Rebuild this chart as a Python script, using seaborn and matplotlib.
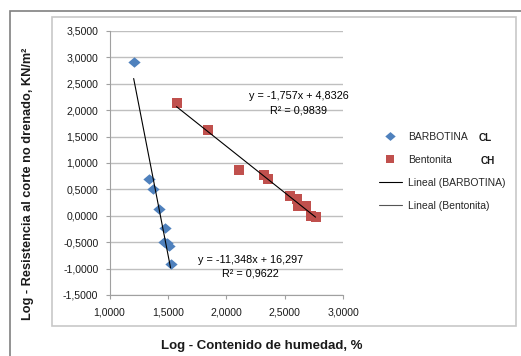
import numpy as np
import pandas as pd
import matplotlib
matplotlib.use("Agg")
import matplotlib.pyplot as plt
import seaborn as sns
from matplotlib.lines import Line2D
from matplotlib.patches import Rectangle
from matplotlib.ticker import FuncFormatter, MultipleLocator

# Log of moisture content vs log of undrained shear strength
barb_x = [1.207, 1.340, 1.374, 1.426, 1.474, 1.468, 1.489, 1.511, 1.523]
barb_y = [2.922, 0.695, 0.505, 0.127, -0.233, -0.487, -0.517, -0.580, -0.915]
bent_x = [1.574, 1.845, 2.109, 2.321, 2.357, 2.549, 2.605, 2.614, 2.679, 2.728, 2.765]
bent_y = [2.134, 1.629, 0.871, 0.777, 0.695, 0.379, 0.316, 0.189, 0.189, -0.013, -0.025]

series_names = ["BARBOTINA", "Bentonita"]
soil_class = ["CL", "CH"]
trend_labels = ["Lineal (BARBOTINA)", "Lineal (Bentonita)"]

# Linear trend coefficients (slope, intercept, R²)
barb_fit = [-11.348, 16.297, 0.9622]
bent_fit = [-1.757, 4.8326, 0.9839]

x_label = "Log - Contenido de humedad, %"
y_label = "Log - Resistencia al corte no drenado, KN/m²"

BLUE = "#4F81BD"
RED = "#C0504D"
# diamond, a bit wider than tall
DIAMOND = [(-1, 0), (0, 0.85), (1, 0), (0, -0.85), (-1, 0)]

barb_df = pd.DataFrame({"x": barb_x, "y": barb_y})
bent_df = pd.DataFrame({"x": bent_x, "y": bent_y})

sns.set_theme(style="white")
plt.rcParams["font.family"] = ["Liberation Sans", "DejaVu Sans"]

W, H = 521, 356
fig = plt.figure(figsize=(W / 100, H / 100), dpi=100)
ax = fig.add_axes([109.5 / W, 1 - 295 / H, (343 - 109.5) / W, (295 - 31) / H])

sns.scatterplot(data=barb_df, x="x", y="y", marker=DIAMOND, color=BLUE,
                s=78, linewidth=0, ax=ax, zorder=3)
sns.scatterplot(data=bent_df, x="x", y="y", marker="s", color=RED,
                s=56, linewidth=0, ax=ax, zorder=3)


def fmt(v):
    return f"{v:g}".replace(".", ",")


def trend(xs, fit, tx, ty):
    xx = np.array([min(xs), max(xs)])
    ax.plot(xx, fit[0] * xx + fit[1], color="black", lw=0.8, zorder=4)
    sign = "+" if fit[1] >= 0 else "-"
    ax.text(tx, ty, f"y = {fmt(fit[0])}x {sign} {fmt(abs(fit[1]))}",
            ha="center", va="center", fontsize=7.8, color="black")
    ax.text(tx, ty - 0.26, f"R² = {fmt(fit[2])}",
            ha="center", va="center", fontsize=7.8, color="black")


trend(barb_x, barb_fit, 2.205, -0.840)
trend(bent_x, bent_fit, 2.620, 2.26)

ax.set_xlim(1.0, 3.0)
ax.set_ylim(-1.5, 3.5)
ax.xaxis.set_major_locator(MultipleLocator(0.5))
ax.yaxis.set_major_locator(MultipleLocator(0.5))
ax.xaxis.set_major_formatter(FuncFormatter(lambda v, p: f"{v:.4f}".replace(".", ",")))
ax.yaxis.set_major_formatter(FuncFormatter(lambda v, p: f"{v:.4f}".replace(".", ",")))
ax.grid(axis="y", color="#bfbfbf", lw=1.0)
ax.grid(axis="x", visible=False)
ax.set_axisbelow(True)
for side in ["top", "right"]:
    ax.spines[side].set_visible(False)
for side in ["left", "bottom"]:
    ax.spines[side].set_color("#a0a0a0")
    ax.spines[side].set_linewidth(0.8)
ax.tick_params(axis="both", which="both", direction="out", length=3, width=0.8,
               color="#a0a0a0", labelsize=7.6, labelcolor="#1a1a1a",
               left=True, bottom=True)
ax.tick_params(axis="y", pad=5)
ax.tick_params(axis="x", pad=6)
ax.set_xlabel("")
ax.set_ylabel("")

fig.text(262 / W, 1 - 346 / H, x_label, ha="center", va="center",
         fontsize=9.5, fontweight="bold", color="#1a1a1a")
fig.text(28 / W, 1 - 184 / H, y_label, ha="center", va="center",
         rotation=90, fontsize=9.2, fontweight="bold", color="#1a1a1a")

handles = [
    Line2D([], [], marker=DIAMOND, color=BLUE, ls="none", markersize=7.5, mew=0),
    Line2D([], [], marker="s", color=RED, ls="none", markersize=6.2, mew=0),
    Line2D([], [], color="black", lw=0.8),
    Line2D([], [], color="#555555", lw=0.8),
]
fig.legend(handles, series_names + trend_labels, loc="upper left",
           bbox_to_anchor=(379 / W, 1 - 132 / H), frameon=False, fontsize=7.5,
           handlelength=2.2, handletextpad=0.6, labelspacing=1.25, borderpad=0,
           borderaxespad=0)
fig.text(479 / W, 1 - 138 / H, soil_class[0], ha="left", va="center",
         fontsize=7.2, fontweight="bold", color="#1a1a1a")
fig.text(481 / W, 1 - 161 / H, soil_class[1], ha="left", va="center",
         fontsize=7.2, fontweight="bold", color="#1a1a1a")

# chart frames
fig.patches.append(Rectangle((10 / W, -0.1), 1.2, 1 - 11 / H + 0.1, transform=fig.transFigure,
                             fill=False, edgecolor="#808080", lw=1.2))
fig.patches.append(Rectangle((52 / W, 1 - 326 / H), (516 - 52) / W, (326 - 17) / H,
                             transform=fig.transFigure, fill=False,
                             edgecolor="#c8c8c8", lw=1.2))

fig.savefig("out.png", dpi=100, facecolor="white")
